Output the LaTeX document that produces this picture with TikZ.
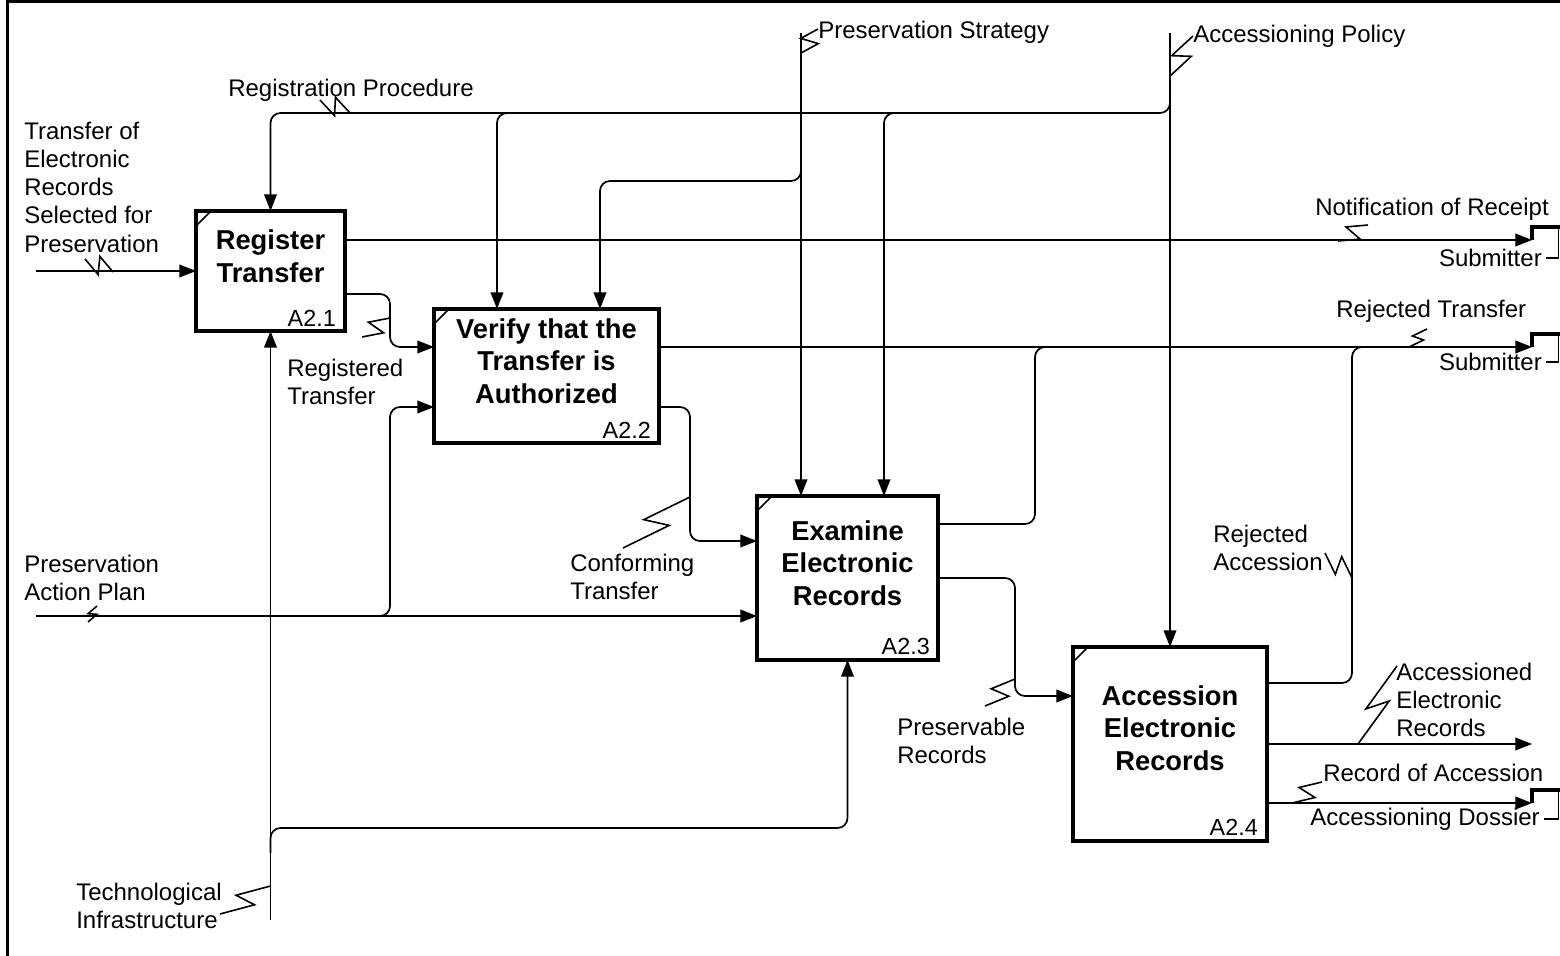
\documentclass[tikz,border=0pt]{standalone}
\usepackage{fontspec}
\setmainfont{Liberation Sans}
\usetikzlibrary{arrows.meta,calc}
% zigzag leader from a connector (#2) to its label (#3)
\newcommand\lblzig[3][6.5pt]{\draw[zig] (#2) -- ($(#2)!0.6!(#3)!#1!-90:(#3)$) -- ($(#2)!0.4!(#3)!#1!90:(#3)$) -- (#3);}
\begin{document}
\begin{tikzpicture}[x=0.75pt,y=-0.75pt,
  conn/.style={line width=1.3pt,rounded corners=7.5pt},
  arr/.style={conn,-{Triangle[length=12.5pt,width=9.5pt]}},
  zig/.style={line width=1.2pt},
  stub/.style={line width=2.6pt},
  box/.style={draw,line width=2.6pt,inner sep=0pt,outer sep=0pt},
  boxtxt/.style={font=\bfseries\fontsize{20.5}{24.5}\selectfont,align=center,inner sep=0pt},
  boxid/.style={font=\fontsize{17.5}{21}\selectfont,inner sep=0pt,anchor=base east},
  lbl/.style={font=\fontsize{18}{21.2}\selectfont,align=left,inner sep=0pt,anchor=west},
  rlbl/.style={lbl,anchor=east}]
\useasboundingbox (0,0) rectangle (1560,956);

% frame
\draw[line width=1.6pt] (7.5,0) -- (7.5,956);
\draw[line width=1.6pt] (7.5,1.5) -- (1560,1.5);
\foreach \t in {146,788,826,1085,1328} \draw[line width=1.2pt] (\t,0) -- (\t,3.5);

% activity boxes
\node[box,minimum width=111.75pt,minimum height=90pt] (b1) at (270.5,271) {};
\node[box,minimum width=168.75pt,minimum height=100.5pt] (b2) at (546.5,376) {};
\node[box,minimum width=135.75pt,minimum height=123pt] (b3) at (847.5,578) {};
\node[box,minimum width=145.5pt,minimum height=145.5pt] (b4) at (1170,744) {};
\foreach \b in {b1,b2,b3,b4}
  \draw[line width=1.2pt] ($(\b.north west)+(0,15)$) -- ($(\b.north west)+(15,0)$);

\node[boxtxt] (t1) at (270.5,256) {Register\\Transfer};
\node[boxtxt] (t2) at (546.5,361) {Verify that the\\Transfer is\\Authorized};
\node[boxtxt] (t3) at (847.5,563) {Examine\\Electronic\\Records};
\node[boxtxt] (t4) at (1170,728) {Accession\\Electronic\\Records};
\node[boxid] (i1) at ($(b1.south east)+(-9,-5)$) {A2.1};
\node[boxid] (i2) at ($(b2.south east)+(-8,-5)$) {A2.2};
\node[boxid] (i3) at ($(b3.south east)+(-8,-6)$) {A2.3};
\node[boxid] (i4) at ($(b4.south east)+(-9,-6)$) {A2.4};

% connector end points and corners
\coordinate (in1) at (36,271);
\coordinate (in2) at (36,616);
\coordinate (apTop) at (1170,33);
\coordinate (psTop) at (801,33);
\coordinate (rp) at (1170,113);
\coordinate (rpA) at (497,113);
\coordinate (rpB) at (884,113);
\coordinate (ps) at (801,181);
\coordinate (psA) at (600,181);
\coordinate (nr) at (1532,240);
\coordinate (rt) at (1532,347);
\coordinate (m1) at (1035,524);
\coordinate (m2) at (1352,683);
\coordinate (r1) at (390,294);
\coordinate (rg) at (390,347);
\coordinate (c1) at (690,407);
\coordinate (c2) at (690,541);
\coordinate (pa) at (390,616);
\coordinate (pb) at (390,407);
\coordinate (ti) at (270.5,920);
\coordinate (tj) at (270.5,828);
\coordinate (pr1) at (1015,578);
\coordinate (pr2) at (1015,696);
\coordinate (ae) at (1532,744);
\coordinate (ra) at (1532,803);

% inputs
\draw[arr] (in1) -- (b1.west);
\draw[arr] (in2) -- (b3.west |- in2);
\draw[arr] ($(pa)+(-25,0)$) -- (pa) -- (pb) -- (b2.west |- pb);

% controls
\draw[arr] (apTop) -- (b4.north);
\draw[arr] ($(rp)+(0,-25)$) -- (rp) -- (rp -| b1.north) -- (b1.north);
\draw[arr] ($(rpA)+(25,0)$) -- (rpA) -- (rpA |- b2.north);
\draw[arr] ($(rpB)+(25,0)$) -- (rpB) -- (rpB |- b3.north);
\draw[arr] (psTop) -- (psTop |- b3.north);
\draw[arr] ($(ps)+(0,-25)$) -- (ps) -- (psA) -- (psA |- b2.north);

% mechanisms
\draw[arr] (ti) -- (b1.south);
\draw[arr] ($(tj)+(0,25)$) -- (tj) -- (tj -| b3.south) -- (b3.south);

% flows between activities
\draw[arr] (b1.east |- r1) -- (r1) -- (rg) -- (b2.west |- rg);
\draw[arr] (b2.east |- c1) -- (c1) -- (c2) -- (b3.west |- c2);
\draw[arr] (b3.east |- pr1) -- (pr1) -- (pr2) -- (b4.west |- pr2);

% outputs
\draw[arr] (b1.east |- nr) -- (nr);
\draw[arr] (b2.east |- rt) -- (rt);
\draw[conn] (b3.east |- m1) -- (m1) -- (m1 |- rt) -- ++(25,0);
\draw[conn] (b4.east |- m2) -- (m2) -- (m2 |- rt) -- ++(25,0);
\draw[arr] (b4.east |- ae) -- (ae);
\draw[arr] (b4.east |- ra) -- (ra);

% tunnelled outputs to the Submitter / Accessioning Dossier
\foreach \p/\d/\w in {nr/18/13,rt/15/13,ra/16/15}{
  \draw[stub] (\p) -- ++(0,-13) -- ++(28,0);
  \draw[line width=1.2pt] ($(\p)+(26.5,-13)$) -- ($(\p)+(26.5,\d)$) -- ++(-\w,0);
}

% labels
\node[lbl] (l1) at (24,187) {Transfer of\\Electronic\\Records\\Selected for\\Preservation};
\node[lbl] (l2) at (228,90) {Registration Procedure};
\node[lbl] (l3) at (818,32) {Preservation Strategy};
\node[lbl] (l4) at (1193,36) {Accessioning Policy};
\node[lbl] (l5) at (1315,209) {Notification of Receipt};
\node[rlbl] (l6) at (1542,258) {Submitter};
\node[lbl] (l7) at (1336,311) {Rejected Transfer};
\node[rlbl] (l8) at (1542,362) {Submitter};
\node[lbl] (l9) at (287,382) {Registered\\Transfer};
\node[lbl] (l10) at (570,577) {Conforming\\Transfer};
\node[lbl] (l11) at (24,578) {Preservation\\Action Plan};
\node[lbl] (l12) at (76,906) {Technological\\Infrastructure};
\node[lbl] (l13) at (897,741) {Preservable\\Records};
\node[lbl] (l14) at (1213,548) {Rejected\\Accession};
\node[lbl] (l15) at (1396,700) {Accessioned\\Electronic\\Records};
\node[lbl] (l16) at (1323,773) {Record of Accession};
\node[rlbl] (l17) at (1540,819) {Accessioning Dossier};

% label leaders
\lblzig{113,272}{85,259}
\lblzig{350,113}{320,100}
\lblzig{801,53}{818,29}
\lblzig{1170,76}{1193,36}
\lblzig{1338,241}{1368,225}
\lblzig[4pt]{1409,347}{1427,329}
\lblzig{390,318}{362,337}
\lblzig[7.5pt]{690,497}{623,548}
\lblzig[3pt]{88,622}{97,606}
\lblzig{270.5,886}{220,914}
\lblzig{1015,679}{985,706}
\lblzig{1352,578}{1325,553}
\lblzig{1358,744}{1397,666}
\lblzig{1292,803}{1322,782}
\end{tikzpicture}
\end{document}
